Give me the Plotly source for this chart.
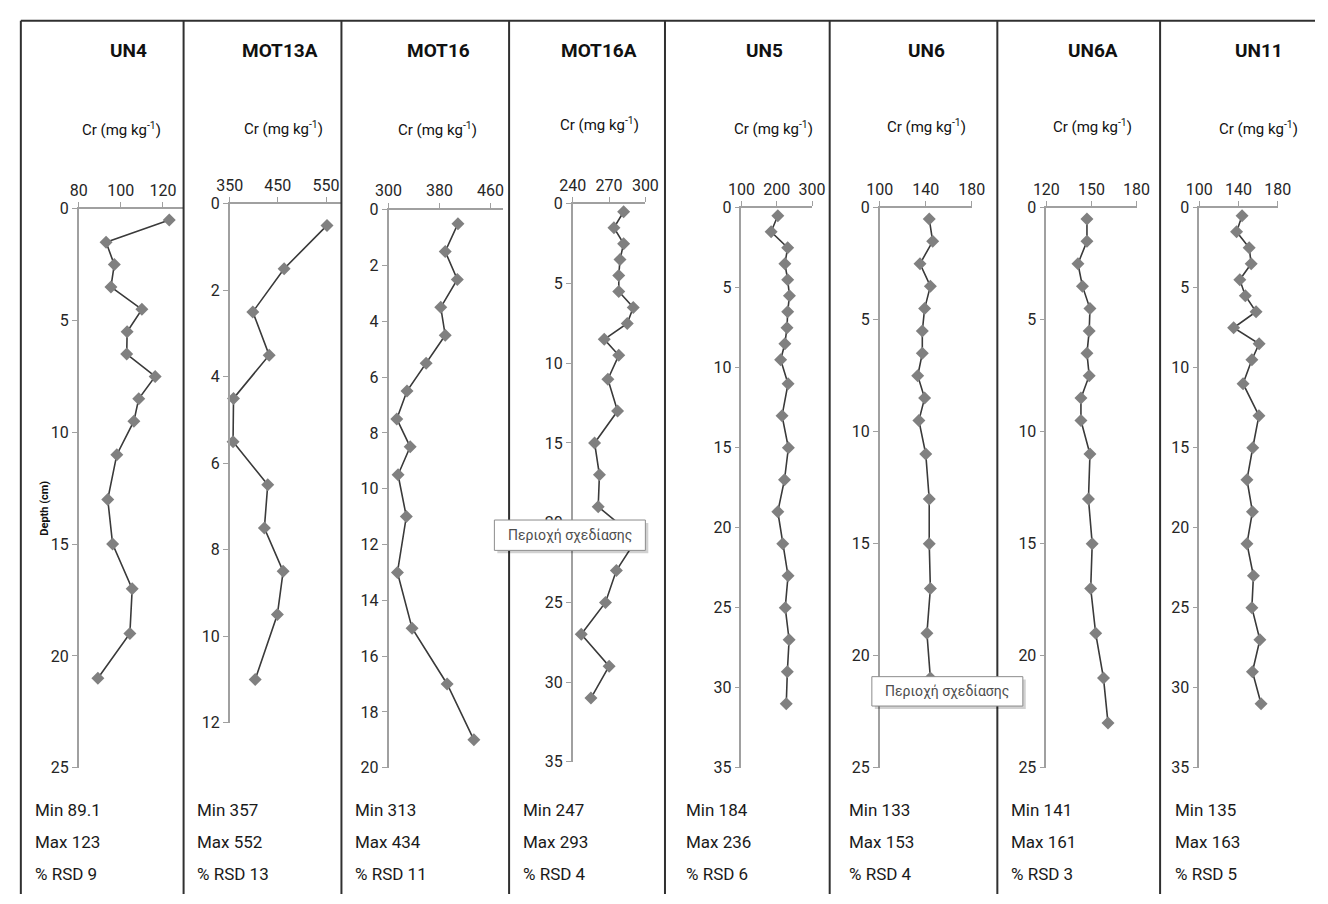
import plotly.graph_objects as go

W, H = 1328, 904

# ---- data: Cr concentration (mg/kg) against core depth (cm) ----
cores = ["UN4", "MOT13A", "MOT16", "MOT16A", "UN5", "UN6", "UN6A", "UN11"]

upper = [0.5, 1.5, 2.5, 3.5, 4.5, 5.5, 6.5, 7.5, 8.5, 9.5]

UN4_depth = upper + [11, 13, 15, 17, 19, 21]
UN4_cr = [123, 93, 96.9, 95.3, 110, 103, 102.8, 116.3, 108.5, 106.2,
          98.1, 93.8, 96.1, 105.4, 104.3, 89.1]

MOT13A_depth = upper + [11]
MOT13A_cr = [552, 463, 398, 432, 358, 357, 429, 422, 461, 449, 403]

MOT16_depth = upper + [11, 13, 15, 17, 19]
MOT16_cr = [409, 389, 408, 382, 389, 359, 329, 313, 334, 315,
            328, 314, 337, 392, 434]

MOT16A_depth = upper + [11, 13, 15, 17, 19, 21, 23, 25, 27, 29, 31]
MOT16A_cr = [282, 274, 282, 279, 278, 278, 290, 285, 266, 278,
             269, 277, 258, 262, 261, 293, 276, 267, 247, 270, 255]

UN5_depth = upper + [11, 13, 15, 17, 19, 21, 23, 25, 27, 29, 31]
UN5_cr = [203, 184, 231, 223, 231, 236, 231, 229, 223, 211,
          232, 215, 233, 222, 203, 217, 232, 224, 235, 230, 227]

UN6_depth = upper + [11, 13, 15, 17, 19, 21]
UN6_cr = [143, 146, 135, 144, 139, 137, 137, 133, 139, 134,
          140, 143, 143, 144, 141, 144]

UN6A_depth = upper + [11, 13, 15, 17, 19, 21, 23]
UN6A_cr = [147, 147, 141, 144, 149, 148.5, 147, 148.5, 143, 143,
           149, 148, 150.5, 149.5, 152.8, 158, 161]

UN11_depth = upper + [11, 13, 15, 17, 19, 21, 23, 25, 27, 29, 31]
UN11_cr = [143.6, 138, 150.9, 152.9, 141.3, 146.9, 157.9, 135, 161, 153.6,
           144.6, 160.8, 154.5, 148.6, 154.2, 148.6, 155.2, 153.6, 161.8, 154.2, 163]

depths = [UN4_depth, MOT13A_depth, MOT16_depth, MOT16A_depth,
          UN5_depth, UN6_depth, UN6A_depth, UN11_depth]
values = [UN4_cr, MOT13A_cr, MOT16_cr, MOT16A_cr,
          UN5_cr, UN6_cr, UN6A_cr, UN11_cr]

# summary statistics printed under each profile
stat_min = ["89.1", "357", "313", "247", "184", "133", "141", "135"]
stat_max = ["123", "552", "434", "293", "236", "153", "161", "163"]
stat_rsd = ["9", "13", "11", "4", "6", "4", "3", "5"]

# axis ticks
x_ticks = [[80, 100, 120], [350, 450, 550], [300, 380, 460], [240, 270, 300],
           [100, 200, 300], [100, 140, 180], [120, 150, 180], [100, 140, 180]]
y_max = [25, 12, 20, 35, 35, 25, 25, 35]
y_step = [5, 2, 2, 5, 5, 5, 5, 5]

# ---- panel geometry (pixels) ----
x_range = [[80, 129.8], [350, 582], [300, 480], [240, 300],
           [100, 300], [100, 180], [120, 180], [100, 180]]
px_left = [67, 221, 383, 571, 743, 884, 1054, 1210]
px_right = [174, 335, 500, 645, 815, 978, 1146, 1290]
py_top = [204, 199, 205, 199, 203, 203, 203, 203]
py_bot = [775, 729, 775, 769, 775, 775, 775, 775]
dividers = [8, 174, 335, 506, 665, 833, 1004, 1170]
title_cx = [118, 272, 434, 598, 767, 932, 1102, 1271]
unit_cx = [111, 276, 433, 598, 776, 932, 1101, 1270]
unit_cy = [123, 122, 123, 117, 122, 120, 120, 122]
stat_x = [20, 186, 347, 518, 684, 851, 1016, 1183]

FONT = "Roboto, Liberation Sans, sans-serif"
INK = "#262626"
AXIS = "#a0a0a0"


def fx(px):
    return px / W


def fy(py):
    return 1 - py / H


fig = go.Figure()
layout = dict(
    width=W, height=H,
    margin=dict(l=0, r=0, t=0, b=0),
    paper_bgcolor="white", plot_bgcolor="rgba(0,0,0,0)",
    showlegend=False,
    font=dict(family=FONT, color=INK, size=16),
)

annotations = []
shapes = []

for i in range(len(cores)):
    n = i + 1
    xa = "x" if n == 1 else f"x{n}"
    ya = "y" if n == 1 else f"y{n}"
    fig.add_trace(go.Scatter(
        x=values[i], y=depths[i], xaxis=xa, yaxis=ya,
        mode="lines+markers",
        line=dict(color="#3a3a3a", width=1.6),
        marker=dict(symbol="diamond", size=10, color="#808080"),
        cliponaxis=False,
    ))
    layout[f"xaxis{n if n > 1 else ''}"] = dict(
        domain=[fx(px_left[i]), fx(px_right[i])],
        range=x_range[i], anchor=ya, side="top",
        tickmode="array", tickvals=x_ticks[i],
        ticks="outside", ticklen=5, tickwidth=1.3, tickcolor=AXIS,
        showline=True, linecolor=AXIS, linewidth=1.6,
        showgrid=False, zeroline=False,
        tickfont=dict(size=16, color=INK, family=FONT),
    )
    layout[f"yaxis{n if n > 1 else ''}"] = dict(
        domain=[fy(py_bot[i]), fy(py_top[i])],
        range=[y_max[i], 0], anchor=xa,
        tickmode="linear", tick0=0, dtick=y_step[i],
        ticks="outside", ticklen=5, tickwidth=1.3, tickcolor=AXIS,
        showline=True, linecolor=AXIS, linewidth=1.6,
        showgrid=False, zeroline=False,
        tickfont=dict(size=16, color=INK, family=FONT),
    )
    # core name
    annotations.append(dict(
        x=fx(title_cx[i]), y=fy(42), xref="paper", yref="paper",
        text=f"<b>{cores[i]}</b>", showarrow=False,
        xanchor="center", yanchor="middle",
        font=dict(size=19, color="#111111", family=FONT),
    ))
    # variable / unit label
    annotations.append(dict(
        x=fx(unit_cx[i]), y=fy(unit_cy[i]), xref="paper", yref="paper",
        text="Cr (mg kg<sup>-1</sup>)", showarrow=False,
        xanchor="center", yanchor="middle",
        font=dict(size=15, color="#111111", family=FONT),
    ))
    # statistics block
    for row, txt in enumerate([f"Min {stat_min[i]}", f"Max {stat_max[i]}",
                               f"% RSD {stat_rsd[i]}"]):
        annotations.append(dict(
            x=fx(stat_x[i]), y=fy(818 + 33 * row), xref="paper", yref="paper",
            text=txt, showarrow=False, xanchor="left", yanchor="middle",
            font=dict(size=17, color="#1a1a1a", family=FONT),
        ))

# depth axis title on the first profile
annotations.append(dict(
    x=fx(32), y=fy(510), xref="paper", yref="paper",
    text="<b>Depth (cm)</b>", showarrow=False, textangle=-90,
    xanchor="center", yanchor="middle",
    font=dict(size=11, color="#111111", family=FONT),
))

# panel frame: top rule and vertical separators
shapes.append(dict(type="line", xref="paper", yref="paper",
                   x0=fx(8), x1=1, y0=fy(12), y1=fy(12),
                   line=dict(color="#303030", width=2)))
for d in dividers:
    shapes.append(dict(type="line", xref="paper", yref="paper",
                       x0=fx(d), x1=fx(d), y0=fy(12), y1=0,
                       line=dict(color="#303030", width=2)))

# "plot area" hover tags
for (x0, y0, x1, y1) in [(491, 522, 645, 553), (876, 682, 1030, 712)]:
    shapes.append(dict(type="rect", xref="paper", yref="paper", layer="above",
                       x0=fx(x0 + 3), x1=fx(x1 + 3), y0=fy(y1 + 3), y1=fy(y0 + 3),
                       line=dict(width=0), fillcolor="rgba(0,0,0,0.18)"))
    shapes.append(dict(type="rect", xref="paper", yref="paper", layer="above",
                       x0=fx(x0), x1=fx(x1), y0=fy(y1), y1=fy(y0),
                       line=dict(color="#8c8c8c", width=1), fillcolor="white"))
    annotations.append(dict(
        x=fx((x0 + x1) / 2), y=fy((y0 + y1) / 2), xref="paper", yref="paper",
        text="Περιοχή σχεδίασης", showarrow=False,
        xanchor="center", yanchor="middle",
        font=dict(size=14, color="#4d4d4d", family=FONT),
    ))

layout["annotations"] = annotations
layout["shapes"] = shapes
fig.update_layout(**layout)

fig.write_html("out.html")
